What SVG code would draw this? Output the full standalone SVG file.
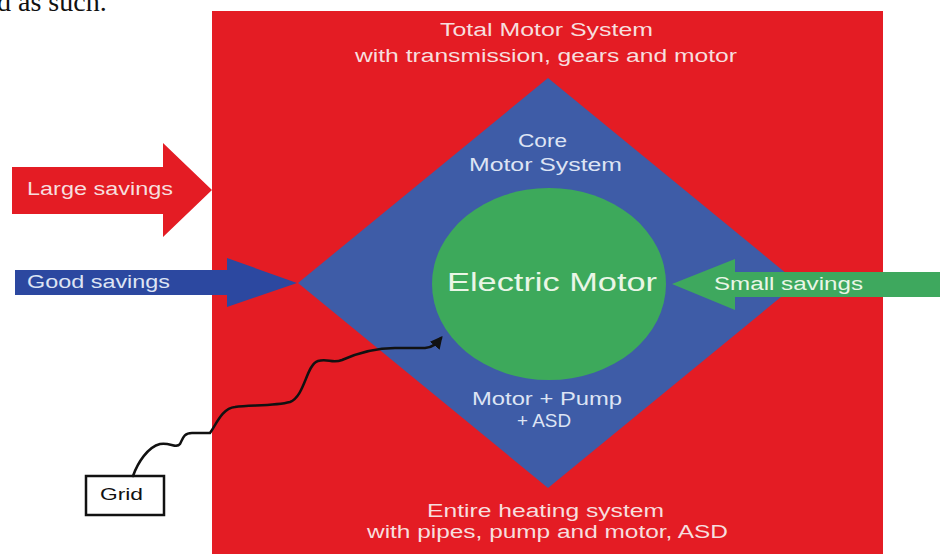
<svg xmlns="http://www.w3.org/2000/svg" width="940" height="554" viewBox="0 0 940 554">
<defs>
<style>
.t{font-family:"Liberation Sans",Arial,sans-serif;}
.onred{fill:#F7DEDE;font-size:18px;}
.onblue{fill:#DDE4F4;font-size:18px;}
.ongreen{fill:#EAF6E6;}
</style>
<marker id="ah" viewBox="0 0 10 10" refX="8" refY="5" markerWidth="5" markerHeight="5" orient="auto" markerUnits="strokeWidth">
<path d="M0,0 L10,5 L0,10 Z" fill="#111"/>
</marker>
</defs>
<rect width="940" height="554" fill="#fff"/>
<text x="-3" y="11" font-family="Liberation Serif,serif" font-size="28" fill="#111">d as such.</text>

<g id="total-motor-system">
<rect x="212" y="11" width="671" height="543" fill="#E41C24"/>
<text class="t onred" x="440" y="36" textLength="213" lengthAdjust="spacingAndGlyphs">Total Motor System</text>
<text class="t onred" x="355" y="62" textLength="382" lengthAdjust="spacingAndGlyphs">with transmission, gears and motor</text>
<text class="t onred" x="427" y="517" textLength="237" lengthAdjust="spacingAndGlyphs">Entire heating system</text>
<text class="t onred" x="367" y="538" textLength="361" lengthAdjust="spacingAndGlyphs">with pipes, pump and motor, ASD</text>
</g>

<g id="core-motor-system">
<polygon points="548,78 798,283 548,488 298,283" fill="#3E5CA7"/>
<text class="t onblue" x="518" y="147" textLength="49" lengthAdjust="spacingAndGlyphs">Core</text>
<text class="t onblue" x="469" y="171" textLength="153" lengthAdjust="spacingAndGlyphs">Motor System</text>
<text class="t onblue" x="472" y="405" textLength="150" lengthAdjust="spacingAndGlyphs">Motor + Pump</text>
<text class="t onblue" x="517" y="427" textLength="54" lengthAdjust="spacingAndGlyphs">+ ASD</text>
</g>

<g id="electric-motor">
<ellipse cx="549" cy="284" rx="117" ry="96" fill="#3DA95B"/>
<text class="t ongreen" x="447" y="291" font-size="26" textLength="210" lengthAdjust="spacingAndGlyphs">Electric Motor</text>
</g>

<g id="large-savings">
<polygon points="12,167 163,167 163,143 212,190 163,237 163,214 12,214" fill="#E41C24"/>
<text class="t onred" x="27" y="195" textLength="146" lengthAdjust="spacingAndGlyphs">Large savings</text>
</g>

<g id="good-savings">
<polygon points="15,270 227,270 227,258 297,283 227,307 227,295 15,295" fill="#2C48A0"/>
<text class="t onblue" x="27" y="288" textLength="143" lengthAdjust="spacingAndGlyphs">Good savings</text>
</g>

<g id="small-savings">
<polygon points="940,272 735,272 735,259 672,284 735,310 735,297 940,297" fill="#3EA85E"/>
<text class="t ongreen" x="714" y="290" font-size="18" textLength="149" lengthAdjust="spacingAndGlyphs">Small savings</text>
</g>

<g id="grid">
<rect x="86" y="476" width="78" height="39" fill="#fff" stroke="#111" stroke-width="2.5"/>
<text class="t" x="100" y="500" font-size="17" fill="#111" textLength="43" lengthAdjust="spacingAndGlyphs">Grid</text>
</g>

<g id="connectors">
<path d="M133,476 C138,462 148,447 160,444 C170,442 176,449 180,444 C183,438 184,433 192,433 L210,433 C216,425 222,408 235,407 C250,405 275,406 290,402 C305,396 306,365 318,361 C328,358 332,364 342,360 C360,352 375,348 395,348 L425,348 C434,347 437,343 441,338" fill="none" stroke="#111" stroke-width="2.5" stroke-linecap="round" marker-end="url(#ah)"/>
</g>
</svg>
